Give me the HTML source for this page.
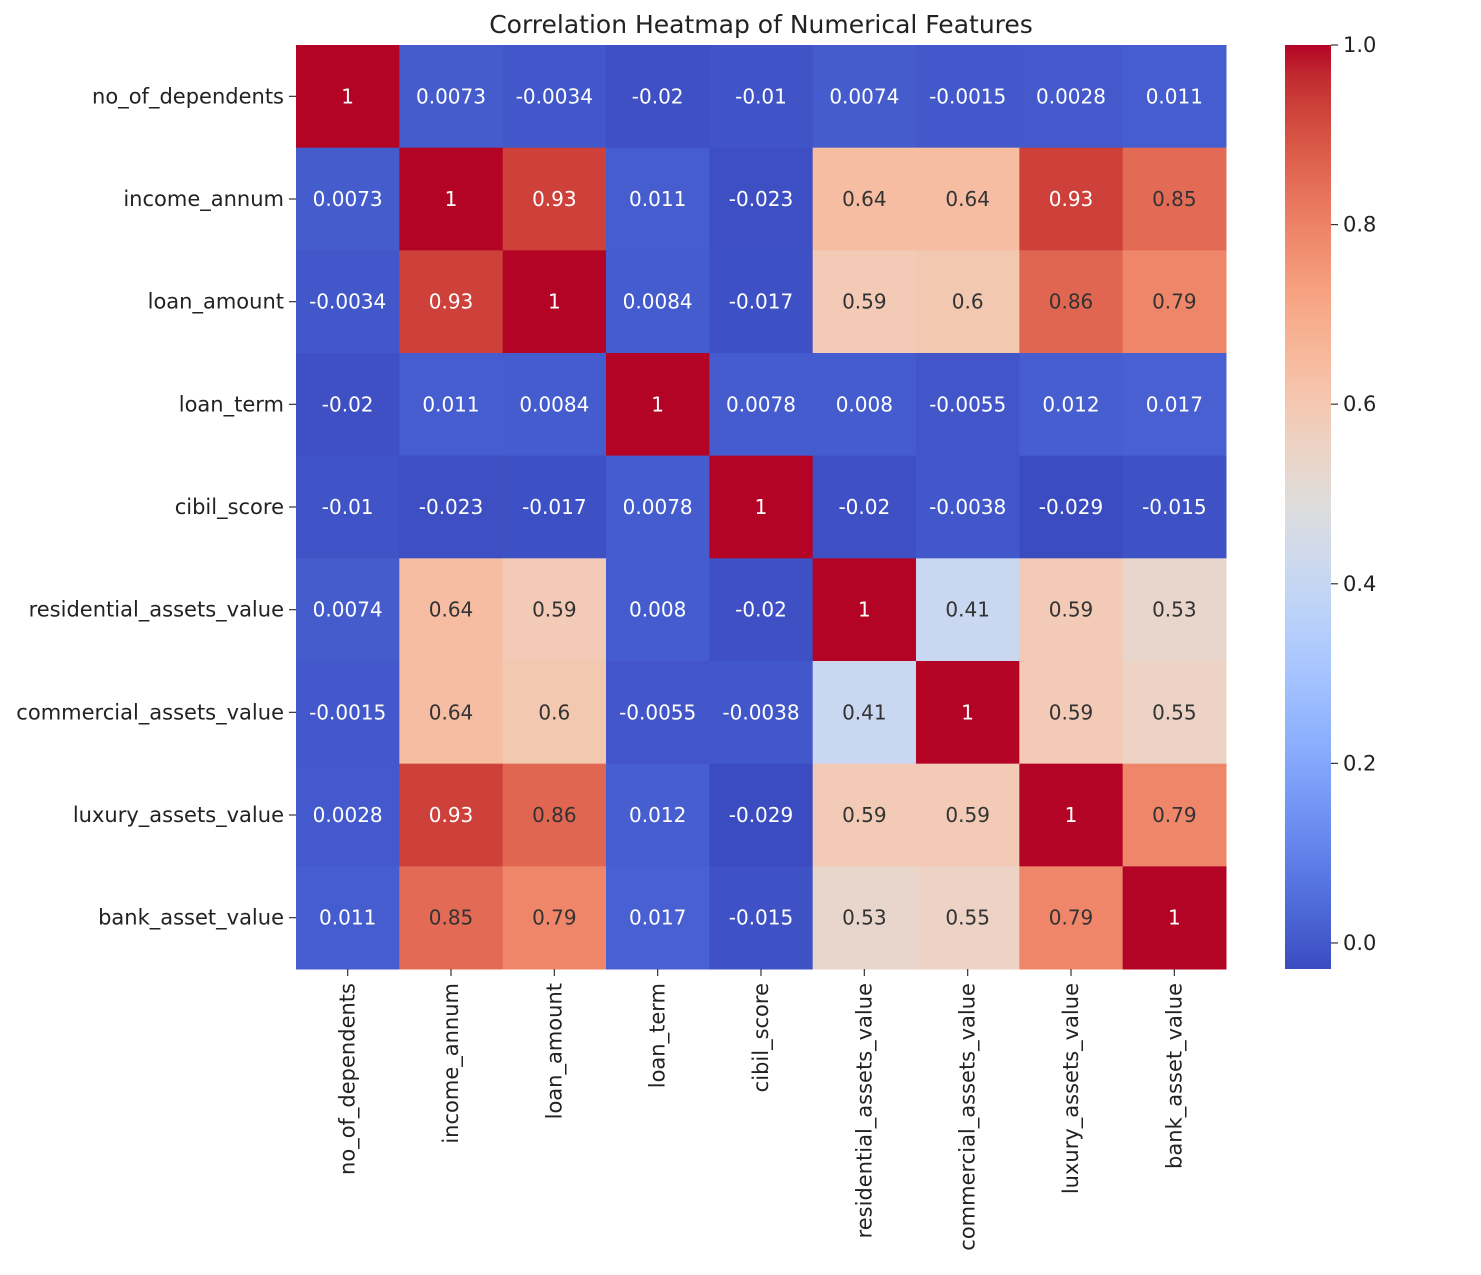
<!DOCTYPE html>
<html><head><meta charset="utf-8"><style>
body{margin:0;background:#fff;}
svg{display:block;font-family:"DejaVu Sans","Liberation Sans",sans-serif;}
</style></head><body>
<svg id="chart" width="1481" height="1275" viewBox="0 0 1481 1275">
<text x="761" y="33" text-anchor="middle" font-size="25" fill="#222">Correlation Heatmap of Numerical Features</text>
<g id="cells"></g>
<g id="ylabels"></g>
<g id="xlabels"></g>
<defs><linearGradient id="cbgrad" x1="0" y1="1" x2="0" y2="0"></linearGradient></defs>
<rect id="cbar" x="1285" y="45" width="46" height="924" fill="url(#cbgrad)"/>
<g id="cticks"></g>
</svg>
<script>
const labels = ["no_of_dependents","income_annum","loan_amount","loan_term","cibil_score","residential_assets_value","commercial_assets_value","luxury_assets_value","bank_asset_value"];
const row0 = [1,0.0073,-0.0034,-0.02,-0.01,0.0074,-0.0015,0.0028,0.011];
const row1 = [0.0073,1,0.93,0.011,-0.023,0.64,0.64,0.93,0.85];
const row2 = [-0.0034,0.93,1,0.0084,-0.017,0.59,0.6,0.86,0.79];
const row3 = [-0.02,0.011,0.0084,1,0.0078,0.008,-0.0055,0.012,0.017];
const row4 = [-0.01,-0.023,-0.017,0.0078,1,-0.02,-0.0038,-0.029,-0.015];
const row5 = [0.0074,0.64,0.59,0.008,-0.02,1,0.41,0.59,0.53];
const row6 = [-0.0015,0.64,0.6,-0.0055,-0.0038,0.41,1,0.59,0.55];
const row7 = [0.0028,0.93,0.86,0.012,-0.029,0.59,0.59,1,0.79];
const row8 = [0.011,0.85,0.79,0.017,-0.015,0.53,0.55,0.79,1];
const matrix = [row0,row1,row2,row3,row4,row5,row6,row7,row8];
const cbarTicks = [0.0,0.2,0.4,0.6,0.8,1.0];
const vmin = -0.029, vmax = 1;

const NS="http://www.w3.org/2000/svg";
const X0=296, X1=1226, Y0=45, Y1=969, n=labels.length;
const cw=(X1-X0)/n, ch=(Y1-Y0)/n;
const CM=[[59,76,192],[68,90,204],[77,104,215],[87,117,225],[98,130,234],[108,142,241],[119,154,247],[130,165,251],[141,176,254],[152,185,255],[163,194,255],[174,201,253],[184,208,249],[194,213,244],[204,217,238],[213,219,230],[221,221,221],[229,216,209],[236,211,197],[241,204,184],[245,196,172],[247,187,159],[247,177,147],[247,167,134],[244,154,123],[241,141,111],[236,127,99],[229,112,89],[222,96,77],[213,80,66],[203,62,56],[192,40,47],[180,4,38]];
function cmap(t){t=Math.max(0,Math.min(1,t));const p=t*(CM.length-1);const i=Math.min(Math.floor(p),CM.length-2);const f=p-i;
 return CM[i].map((c,k)=>Math.round(c+(CM[i+1][k]-c)*f));}
function norm(v){return (v-vmin)/(vmax-vmin);}
function xPos(j){return X0+j*cw;}
function yPos(i){return Y0+i*ch;}
function cbY(v){return Y1-(v-vmin)/(vmax-vmin)*(Y1-Y0);}
function mk(tag,attrs,parent){const e=document.createElementNS(NS,tag);for(const k in attrs)e.setAttribute(k,attrs[k]);parent.appendChild(e);return e;}

const cells=document.getElementById('cells');
matrix.forEach((row,i)=>row.forEach((v,j)=>{
  const c=cmap(norm(v));
  const r=mk('rect',{x:xPos(j),y:yPos(i),width:cw+0.5,height:ch+0.5,fill:'rgb('+c[0]+','+c[1]+','+c[2]+')'},cells);
  
  
  const lum=(0.299*c[0]+0.587*c[1]+0.114*c[2])/255;
  const t=mk('text',{x:xPos(j)+cw/2,y:yPos(i)+ch/2+7,'text-anchor':'middle','font-size':20,fill:(lum>0.45?'#333333':'#ffffff')},cells);
  t.textContent=String(v);
  
  
}));
const yl=document.getElementById('ylabels'), xl=document.getElementById('xlabels');
labels.forEach((lab,i)=>{
  const cy=yPos(i)+ch/2;
  mk('line',{x1:X0-7,x2:X0,y1:cy,y2:cy,stroke:'#333','stroke-width':1.2},yl);
  const t=mk('text',{x:X0-12,y:cy+7,'text-anchor':'end','font-size':21,fill:'#222'},yl);
  t.textContent=lab;
  
  
  const cx=xPos(i)+cw/2;
  mk('line',{x1:cx,x2:cx,y1:Y1,y2:Y1+7,stroke:'#333','stroke-width':1.2},xl);
  const u=mk('text',{x:cx+7,y:Y1+14,'text-anchor':'end','font-size':21,fill:'#222',transform:`rotate(-90 ${cx+7} ${Y1+14})`},xl);
  u.textContent=lab;
  
  
});
const g=document.getElementById('cbgrad');
for(let k=0;k<=32;k++){mk('stop',{offset:k/32,'stop-color':'rgb('+CM[k].join(',')+')'},g);}
const ct=document.getElementById('cticks');
cbarTicks.forEach(v=>{
  const y=cbY(v);
  mk('line',{x1:1331,x2:1338,y1:y,y2:y,stroke:'#333','stroke-width':1.2},ct);
  const t=mk('text',{x:1343,y:y+7,'font-size':21,fill:'#222'},ct);
  t.textContent=v.toFixed(1);
  
  
});
</script>
</body></html>
